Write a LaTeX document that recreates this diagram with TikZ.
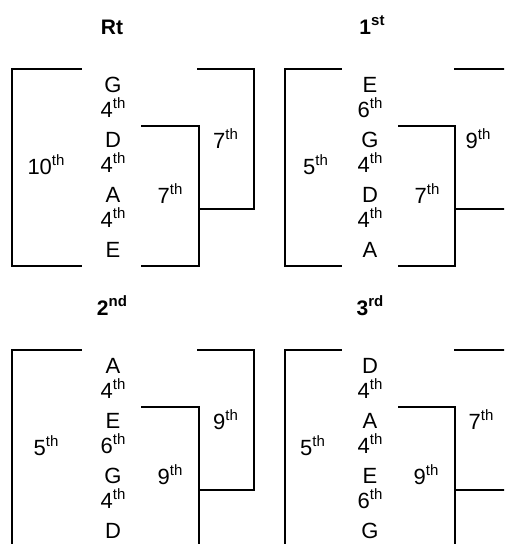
\documentclass[tikz,border=0pt]{standalone}
\usepackage{fontspec}
\setmainfont{Liberation Sans}
\newcommand\sps[1]{\raisebox{9pt}{\fontsize{15}{15}\selectfont #1}}
\tikzset{
  note/.style={anchor=base, inner sep=0pt, font=\fontsize{22}{22}\selectfont},
  ttl/.style={anchor=base, inner sep=0pt, font=\fontsize{21}{21}\selectfont\bfseries},
  brk/.style={line width=2.2pt, line cap=rect},
}
\begin{document}
\begin{tikzpicture}[x=1pt,y=-1pt]
\useasboundingbox (0,0) rectangle (504,544);
\clip (0,0) rectangle (504,544);

% ---------- panel Rt (top left)
\begin{scope}
\draw[brk] (81,69) -- (12,69) -- (12,266) -- (81,266);
\draw[brk] (142,126) -- (199,126) -- (199,266) -- (142,266);
\draw[brk] (198,69) -- (254,69) -- (254,209) -- (199,209);
\node[ttl] (t1) at (112,34) {Rt};
\node[note] (a1) at (113,92) {G};
\node[note] (a2) at (113,117.3) {4\sps{th}};
\node[note] (a3) at (113,147.3) {D};
\node[note] (a4) at (113,172.6) {4\sps{th}};
\node[note] (a5) at (113,202.6) {A};
\node[note] (a6) at (113,227.9) {4\sps{th}};
\node[note] (a7) at (113,257.9) {E};
\node[note] (al) at (46,174) {10\sps{th}};
\node[note] (am) at (170,203) {7\sps{th}};
\node[note] (ar) at (225.5,148) {7\sps{th}};
\end{scope}

% ---------- panel 1st (top right)
\begin{scope}
\draw[brk] (341,69) -- (285,69) -- (285,266) -- (341,266);
\draw[brk] (399,126) -- (455,126) -- (455,266) -- (399,266);
\draw[brk] (455,69) -- (511,69) -- (511,209) -- (455,209);
\node[ttl] (t2) at (372,34) {1\sps{st}};
\node[note] (b1) at (370,92) {E};
\node[note] (b2) at (370,117.3) {6\sps{th}};
\node[note] (b3) at (370,147.3) {G};
\node[note] (b4) at (370,172.6) {4\sps{th}};
\node[note] (b5) at (370,202.6) {D};
\node[note] (b6) at (370,227.9) {4\sps{th}};
\node[note] (b7) at (370,257.9) {A};
\node[note] (bl) at (315.5,174) {5\sps{th}};
\node[note] (bm) at (427,203) {7\sps{th}};
\node[note] (br) at (478,148) {9\sps{th}};
\end{scope}

% ---------- panel 2nd (bottom left)
\begin{scope}[yshift=-281pt]
\draw[brk] (81,69) -- (12,69) -- (12,266) -- (81,266);
\draw[brk] (142,126) -- (199,126) -- (199,266) -- (142,266);
\draw[brk] (198,69) -- (254,69) -- (254,209) -- (199,209);
\node[ttl] (t3) at (112,34) {2\sps{nd}};
\node[note] (c1) at (113,92) {A};
\node[note] (c2) at (113,117.3) {4\sps{th}};
\node[note] (c3) at (113,147.3) {E};
\node[note] (c4) at (113,172.6) {6\sps{th}};
\node[note] (c5) at (113,202.6) {G};
\node[note] (c6) at (113,227.9) {4\sps{th}};
\node[note] (c7) at (113,257.9) {D};
\node[note] (cl) at (46,174) {5\sps{th}};
\node[note] (cm) at (170,203) {9\sps{th}};
\node[note] (cr) at (225.5,148) {9\sps{th}};
\end{scope}

% ---------- panel 3rd (bottom right)
\begin{scope}[yshift=-281pt]
\draw[brk] (341,69) -- (285,69) -- (285,266) -- (341,266);
\draw[brk] (399,126) -- (455,126) -- (455,266) -- (399,266);
\draw[brk] (455,69) -- (511,69) -- (511,209) -- (455,209);
\node[ttl] (t4) at (370,34) {3\sps{rd}};
\node[note] (d1) at (370,92) {D};
\node[note] (d2) at (370,117.3) {4\sps{th}};
\node[note] (d3) at (370,147.3) {A};
\node[note] (d4) at (370,172.6) {4\sps{th}};
\node[note] (d5) at (370,202.6) {E};
\node[note] (d6) at (370,227.9) {6\sps{th}};
\node[note] (d7) at (370,257.9) {G};
\node[note] (dl) at (312.5,174) {5\sps{th}};
\node[note] (dm) at (426,203) {9\sps{th}};
\node[note] (dr) at (481,148) {7\sps{th}};
\end{scope}
\end{tikzpicture}
\end{document}
